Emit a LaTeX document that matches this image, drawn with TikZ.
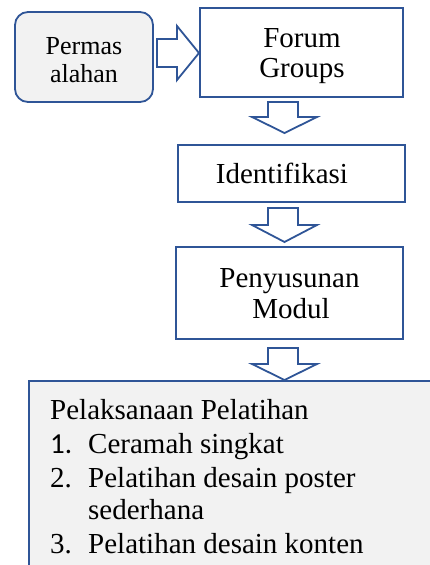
\documentclass[tikz,border=0pt]{standalone}
\usepackage{fontspec}
\setmainfont{Liberation Serif}
\newfontfamily\numfont{Carlito}
\definecolor{bdr}{HTML}{2F5597}
\definecolor{bg}{HTML}{F2F2F2}
\begin{document}
\begin{tikzpicture}[x=1pt,y=-1pt,
  box/.style={draw=bdr,line width=1.8pt,fill=white,inner sep=0pt},
  blk/.style={draw=bdr,line width=1.8pt,fill=white,line join=miter},
  lbl/.style={inner sep=0pt,anchor=base,font=\fontsize{29}{34}\selectfont},
  txt/.style={inner sep=0pt,anchor=base west,font=\fontsize{29}{34}\selectfont}]
\useasboundingbox (0,0) rectangle (430,565);
\clip (0,0) rectangle (430,565);
\node[box,fill=bg,rounded corners=13pt,minimum width=138pt,minimum height=90pt] (perm) at (84,57) {};
\node[box,minimum width=203pt,minimum height=89pt] (fg) at (301.5,52.5) {};
\node[box,minimum width=227pt,minimum height=57pt] (id) at (291.5,173.5) {};
\node[box,minimum width=227pt,minimum height=92pt] (pm) at (289.5,293) {};
\node[draw=bdr,line width=1.8pt,fill=bg,inner sep=0pt,minimum width=430pt,minimum height=220pt,anchor=north west] (pel) at (28,380) {};
% box labels
\node[lbl,font=\fontsize{26}{28}\selectfont] (perm1) at (84,54) {Permas};
\node[lbl,font=\fontsize{26}{28}\selectfont] (perm2) at (84,82) {alahan};
\node[lbl] (fg1) at (302,47) {Forum};
\node[lbl] (fg2) at (302,77) {Groups};
\node[lbl] (id1) at (282,183) {Identifikasi};
\node[lbl] (pm1) at (289.5,287) {Penyusunan};
\node[lbl] (pm2) at (291,318) {Modul};
% block arrows
\draw[blk] (157,39) -- (177,39) -- (177,26) -- (199,53) -- (177,80) -- (177,67) -- (157,67) -- cycle;
\draw[blk] (268,102) -- (298,102) -- (298,117) -- (317,117) -- (284.5,133) -- (252,117) -- (268,117) -- cycle;
\draw[blk] (268,208) -- (298,208) -- (298,225) -- (317,225) -- (284.5,242) -- (252,225) -- (268,225) -- cycle;
\draw[blk] (268,348) -- (298,348) -- (298,364) -- (317,364) -- (284.5,380) -- (252,364) -- (268,364) -- cycle;
% list text
\node[txt] (t0) at (50,419) {Pelaksanaan Pelatihan};
\node[txt] (n1) at (50,453) {\numfont 1.};
\node[txt] (t1) at (88,453) {Ceramah singkat};
\node[txt] (n2) at (50,487) {2.};
\node[txt] (t2) at (88,487) {Pelatihan desain poster};
\node[txt] (t2b) at (88,519) {sederhana};
\node[txt] (n3) at (50,553) {3.};
\node[txt] (t3) at (88,553) {Pelatihan desain konten};
\end{tikzpicture}
\end{document}
